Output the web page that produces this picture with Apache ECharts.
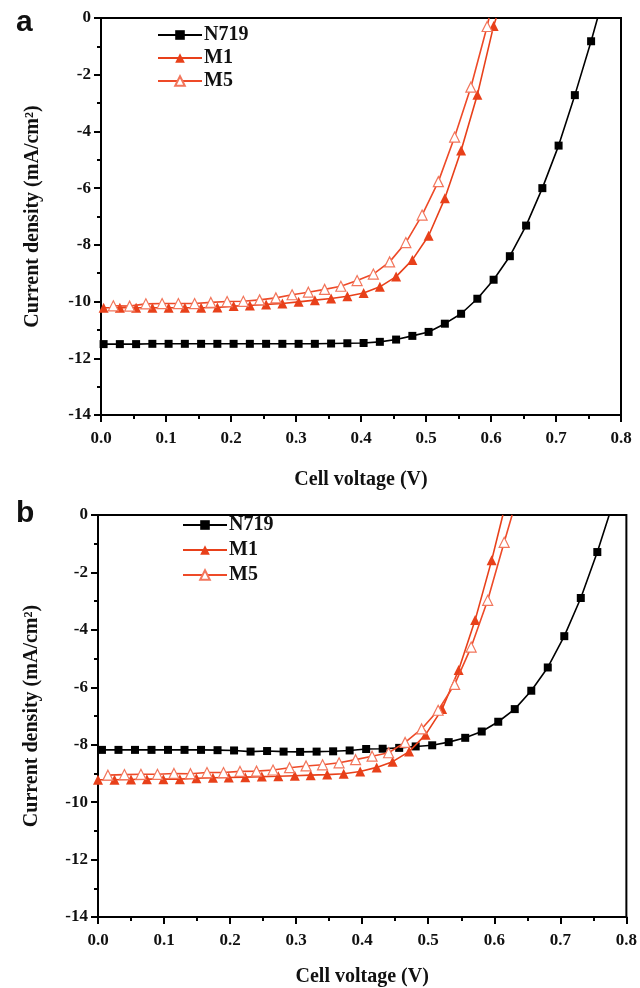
<!DOCTYPE html>
<html><head><meta charset="utf-8">
<script src="https://cdn.jsdelivr.net/npm/echarts@6/dist/echarts.min.js"></script>
<style>html,body{margin:0;padding:0;background:#fff}#c{width:640px;height:988px}</style>
</head><body><div id="c"></div>
<script>
const seriesNames = ['N719', 'M1', 'M5'];
const panelLabels = ['a', 'b'];
const xTickLabels = ['0.0','0.1','0.2','0.3','0.4','0.5','0.6','0.7','0.8'];

// Panel a  (last point of each list = where the curve meets J = 0, drawn without marker)
const aN719V = [0.004,0.029,0.054,0.079,0.104,0.129,0.154,0.179,0.204,0.229,0.254,0.279,0.304,0.329,0.354,0.379,0.404,0.429,0.454,0.479,0.504,0.529,0.554,0.579,0.604,0.629,0.654,0.679,0.704,0.729,0.754,0.764];
const aN719J = [-11.50,-11.50,-11.50,-11.49,-11.49,-11.49,-11.49,-11.49,-11.49,-11.49,-11.49,-11.49,-11.49,-11.49,-11.48,-11.47,-11.46,-11.42,-11.34,-11.21,-11.07,-10.78,-10.43,-9.90,-9.23,-8.40,-7.32,-6.00,-4.50,-2.72,-0.82,0];
const aM1V = [0.004,0.029,0.054,0.079,0.104,0.129,0.154,0.179,0.204,0.229,0.254,0.279,0.304,0.329,0.354,0.379,0.404,0.429,0.454,0.479,0.504,0.529,0.554,0.579,0.604,0.608];
const aM1J = [-10.22,-10.22,-10.22,-10.22,-10.22,-10.22,-10.22,-10.21,-10.16,-10.14,-10.10,-10.07,-10.01,-9.95,-9.89,-9.81,-9.70,-9.48,-9.12,-8.53,-7.68,-6.36,-4.67,-2.71,-0.28,0];
const aM5V = [0.019,0.044,0.069,0.094,0.119,0.144,0.169,0.194,0.219,0.244,0.269,0.294,0.319,0.344,0.369,0.394,0.419,0.444,0.469,0.494,0.519,0.544,0.569,0.594,0.597];
const aM5J = [-10.15,-10.16,-10.08,-10.07,-10.07,-10.07,-10.03,-10.00,-9.99,-9.94,-9.87,-9.76,-9.67,-9.57,-9.46,-9.26,-9.03,-8.60,-7.92,-6.95,-5.77,-4.20,-2.44,-0.30,0];

// Panel b
const bN719V = [0.006,0.031,0.056,0.081,0.106,0.131,0.156,0.181,0.206,0.231,0.256,0.281,0.306,0.331,0.356,0.381,0.406,0.431,0.456,0.481,0.506,0.531,0.556,0.581,0.606,0.631,0.656,0.681,0.706,0.731,0.756,0.774];
const bN719J = [-8.18,-8.18,-8.18,-8.18,-8.18,-8.18,-8.18,-8.19,-8.20,-8.24,-8.22,-8.24,-8.25,-8.24,-8.23,-8.20,-8.15,-8.14,-8.11,-8.06,-8.02,-7.91,-7.76,-7.54,-7.20,-6.76,-6.12,-5.31,-4.22,-2.89,-1.29,0];
const bM1V = [0.000,0.025,0.050,0.074,0.099,0.124,0.149,0.174,0.198,0.223,0.248,0.273,0.298,0.322,0.347,0.372,0.397,0.422,0.446,0.471,0.496,0.521,0.546,0.571,0.596,0.613];
const bM1J = [-9.22,-9.22,-9.21,-9.20,-9.20,-9.20,-9.17,-9.15,-9.14,-9.13,-9.11,-9.10,-9.08,-9.06,-9.04,-9.01,-8.93,-8.79,-8.59,-8.24,-7.65,-6.76,-5.40,-3.66,-1.58,0];
const bM5V = [0.015,0.040,0.065,0.090,0.115,0.140,0.165,0.190,0.215,0.240,0.265,0.290,0.315,0.340,0.365,0.390,0.415,0.440,0.465,0.490,0.515,0.540,0.565,0.590,0.615,0.627];
const bM5J = [-9.06,-9.04,-9.03,-9.03,-9.00,-9.01,-8.97,-8.97,-8.93,-8.92,-8.88,-8.80,-8.74,-8.70,-8.63,-8.52,-8.40,-8.28,-7.92,-7.45,-6.80,-5.90,-4.60,-2.97,-0.95,0];

function pts(V, J) {
  return V.map((v, i) => i === V.length - 1
    ? { value: [v, J[i]], symbol: 'none' }
    : [v, J[i]]);
}

const SERIF = '"Liberation Serif","Times New Roman",serif';
const styles = {
  N719: { symbol: 'rect', symbolSize: 8, line: '#000000', fill: '#000000', border: '#000000' },
  M1:   { symbol: 'triangle', symbolSize: 10, line: '#e8401a', fill: '#e8401a', border: '#e8401a' },
  M5:   { symbol: 'triangle', symbolSize: 10, line: '#ee4a28', fill: '#ffffff', border: '#f2765c' }
};

function mkSeries(name, V, J, idx) {
  const s = styles[name];
  return {
    name: name, type: 'line', xAxisIndex: idx, yAxisIndex: idx,
    data: pts(V, J), symbol: s.symbol, symbolSize: s.symbolSize,
    showAllSymbol: true, smooth: false, clip: true,
    lineStyle: { color: s.line, width: 1.6 },
    itemStyle: { color: s.fill, borderColor: s.border, borderWidth: name === 'M5' ? 1.2 : 0 },
    emphasis: { disabled: true }, animation: false, z: name === 'N719' ? 3 : (name === 'M1' ? 4 : 5)
  };
}

function xAx(idx, gap) {
  return {
    type: 'value', gridIndex: idx, min: 0, max: 0.8, interval: 0.1,
    name: 'Cell voltage (V)', nameLocation: 'middle', nameGap: gap,
    nameTextStyle: { fontFamily: SERIF, fontWeight: 'bold', fontSize: 20, color: '#111' },
    axisLine: { show: true, onZero: false, lineStyle: { color: '#000', width: 2 } },
    axisTick: { show: true, inside: false, length: 7, lineStyle: { color: '#000', width: 2 } },
    minorTick: { show: true, splitNumber: 2, length: 4, lineStyle: { color: '#000', width: 2 } },
    splitLine: { show: false },
    axisLabel: { margin: 15, fontFamily: SERIF, fontWeight: 'bold', fontSize: 17, color: '#111',
      formatter: v => xTickLabels[Math.round(v * 10)] }
  };
}
function yAx(idx, gap) {
  return {
    type: 'value', gridIndex: idx, min: -14, max: 0, interval: 2,
    name: 'Current density (mA/cm\u00B2)', nameLocation: 'middle', nameGap: gap,
    nameTextStyle: { fontFamily: SERIF, fontWeight: 'bold', fontSize: 20, color: '#111' },
    axisLine: { show: true, onZero: false, lineStyle: { color: '#000', width: 2 } },
    axisTick: { show: true, inside: false, length: 7, lineStyle: { color: '#000', width: 2 } },
    minorTick: { show: true, splitNumber: 2, length: 4, lineStyle: { color: '#000', width: 2 } },
    splitLine: { show: false },
    axisLabel: { margin: 10, fontFamily: SERIF, fontWeight: 'bold', fontSize: 17, color: '#111' }
  };
}

function legend(left, top, gap) {
  return {
    data: seriesNames, orient: 'vertical', left: left, top: top,
    itemWidth: 44, itemHeight: 12, itemGap: gap, selectedMode: false,
    textStyle: { fontFamily: SERIF, fontWeight: 'bold', fontSize: 20, color: '#111', lineHeight: 18, padding: [0,0,0,-3] }
  };
}

const chart = echarts.init(document.getElementById('c'), null, { renderer: 'canvas' });
chart.setOption({
  backgroundColor: '#ffffff',
  animation: false,
  title: [
    { text: panelLabels[0], left: 11, top: 3, textStyle: { fontFamily: '"Liberation Sans",Arial,sans-serif', fontWeight: 'bold', fontSize: 30, color: '#111' } },
    { text: panelLabels[1], left: 11, top: 494, textStyle: { fontFamily: '"Liberation Sans",Arial,sans-serif', fontWeight: 'bold', fontSize: 30, color: '#111' } }
  ],
  legend: [legend(152, 20, 3), legend(177, 510, 5)],
  grid: [
    { left: 101, top: 18, width: 520, height: 397, show: true, borderColor: '#000', borderWidth: 2, backgroundColor: 'transparent' },
    { left: 98, top: 515, width: 531, height: 404, show: true, borderColor: '#000', borderWidth: 2, backgroundColor: 'transparent' }
  ],
  xAxis: [xAx(0, 55), xAx(1, 50)],
  yAxis: [yAx(0, 58), yAx(1, 56)],
  series: [
    mkSeries('N719', aN719V, aN719J, 0),
    mkSeries('M1', aM1V, aM1J, 0),
    mkSeries('M5', aM5V, aM5J, 0),
    mkSeries('N719', bN719V, bN719J, 1),
    mkSeries('M1', bM1V, bM1J, 1),
    mkSeries('M5', bM5V, bM5J, 1)
  ]
});
</script></body></html>
